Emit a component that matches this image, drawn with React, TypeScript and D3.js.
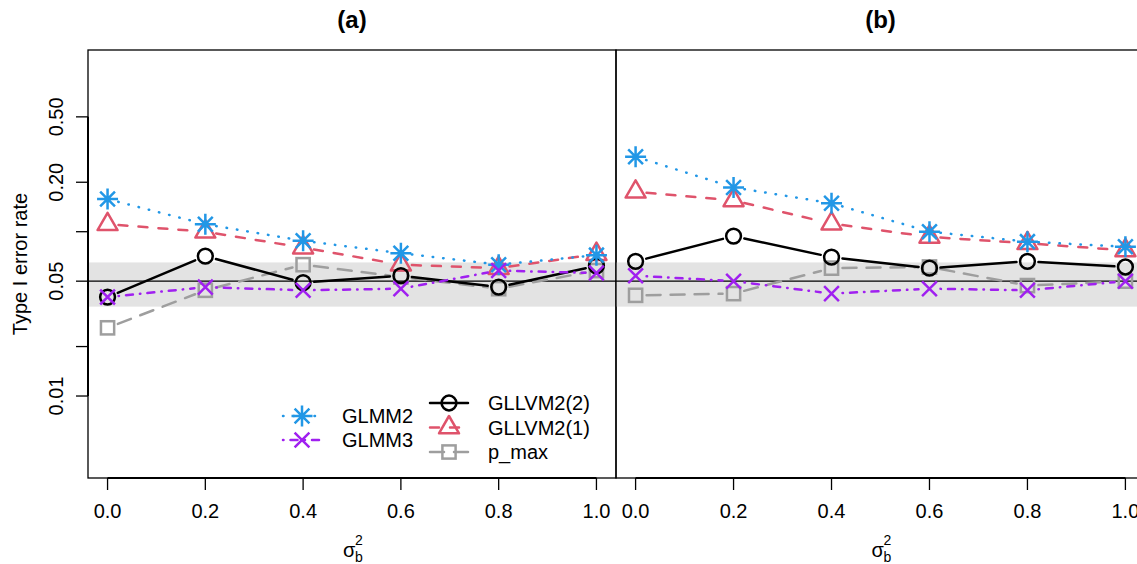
import React from 'react';
import * as d3 from 'd3';

const W = 1137;
const H = 564;

// x values (sigma_b^2) and axis labels
const sigma2 = [0, 0.2, 0.4, 0.6, 0.8, 1.0];
const xTickLabels = ['0.0', '0.2', '0.4', '0.6', '0.8', '1.0'];
const yTicks = [0.01, 0.02, 0.05, 0.1, 0.2, 0.5];
const yTickLabels = ['0.01', '', '0.05', '', '0.20', '0.50'];
const nominal = 0.05;
const bandLimits = [0.035, 0.065];

// panel (a)
const glmm2A = [0.158, 0.111, 0.088, 0.074, 0.063, 0.072];
const glmm3A = [0.04, 0.046, 0.044, 0.045, 0.058, 0.056];
const gllvm22A = [0.04, 0.071, 0.049, 0.054, 0.046, 0.062];
const gllvm21A = [0.111, 0.1, 0.08, 0.063, 0.06, 0.073];
const pmaxA = [0.026, 0.044, 0.063, 0.053, 0.045, 0.058];

// panel (b)
const glmm2B = [0.286, 0.186, 0.149, 0.1, 0.087, 0.081];
const glmm3B = [0.054, 0.05, 0.042, 0.045, 0.044, 0.05];
const gllvm22B = [0.066, 0.094, 0.07, 0.06, 0.066, 0.061];
const gllvm21B = [0.175, 0.155, 0.112, 0.093, 0.085, 0.077];
const pmaxB = [0.041, 0.042, 0.06, 0.061, 0.047, 0.05];

const styles = {
  glmm2: { name: 'GLMM2', color: '#2297E6', dash: '0.5,10', pch: 'star' },
  glmm3: { name: 'GLMM3', color: '#A020F0', dash: '0.5,7,7,7', pch: 'x' },
  gllvm22: { name: 'GLLVM2(2)', color: '#000000', dash: null, pch: 'circle' },
  gllvm21: { name: 'GLLVM2(1)', color: '#DF536B', dash: '9,11', pch: 'triangle' },
  pmax: { name: 'p_max', color: '#9E9E9E', dash: '14,10', pch: 'square' },
};
// drawing order, bottom to top
const drawOrder = ['pmax', 'gllvm21', 'gllvm22', 'glmm2', 'glmm3'];

const panels = [
  { title: '(a)', left: 88, right: 616, axisY: true, data: { glmm2: glmm2A, glmm3: glmm3A, gllvm22: gllvm22A, gllvm21: gllvm21A, pmax: pmaxA } },
  { title: '(b)', left: 616, right: 1145, axisY: false, data: { glmm2: glmm2B, glmm3: glmm3B, gllvm22: gllvm22B, gllvm21: gllvm21B, pmax: pmaxB } },
];

const top = 50;
const bottom = 478;
const font = '"Liberation Sans", Arial, Helvetica, sans-serif';
const lw = 2.5;

const y = d3.scaleLog().domain([0.00317, 1.276]).range([bottom, top]);

// type="b": line segments with a gap around each point
const gapSegments = (pts: [number, number][], g = 11) => {
  const segs: number[][] = [];
  for (let i = 0; i < pts.length - 1; i++) {
    const [x1, y1] = pts[i];
    const [x2, y2] = pts[i + 1];
    const len = Math.hypot(x2 - x1, y2 - y1);
    if (len <= 2 * g) continue;
    const ux = (x2 - x1) / len, uy = (y2 - y1) / len;
    segs.push([x1 + ux * g, y1 + uy * g, x2 - ux * g, y2 - uy * g]);
  }
  return segs;
};

const Symbol = ({ pch, x, y, color }: { pch: string; x: number; y: number; color: string }) => {
  const common = { stroke: color, strokeWidth: lw, fill: 'none' };
  if (pch === 'circle') return <circle cx={x} cy={y} r={7.4} {...common} />;
  if (pch === 'square') return <rect x={x - 6.6} y={y - 6.6} width={13.2} height={13.2} {...common} />;
  if (pch === 'triangle')
    return <path d={`M${x},${y - 11.5}L${x + 10},${y + 5.8}L${x - 10},${y + 5.8}Z`} {...common} strokeLinejoin="round" />;
  const d = 7.4;
  const xPath = `M${x - d},${y - d}L${x + d},${y + d}M${x - d},${y + d}L${x + d},${y - d}`;
  if (pch === 'x') return <path d={xPath} {...common} />;
  const a = 10.5;
  return <path d={`${xPath}M${x - a},${y}H${x + a}M${x},${y - a}V${y + a}`} {...common} />;
};

const Panel = ({ p }: { p: (typeof panels)[number] }) => {
  const x = d3.scaleLinear().domain([-0.04, 1.04]).range([p.left, p.right]);
  const cx = (p.left + p.right) / 2;
  return (
    <g>
      <rect x={p.left} y={y(bandLimits[1])} width={p.right - p.left} height={y(bandLimits[0]) - y(bandLimits[1])} fill="#E3E3E3" />
      <line x1={p.left} x2={p.right} y1={y(nominal)} y2={y(nominal)} stroke="#000" strokeWidth={1.3} />
      {drawOrder.map((k) => {
        const s = (styles as any)[k];
        const vals: number[] = (p.data as any)[k];
        const pts = vals.map((v, i) => [x(sigma2[i]), y(v)] as [number, number]);
        return (
          <g key={k}>
            {gapSegments(pts).map((sg, i) => (
              <line key={i} x1={sg[0]} y1={sg[1]} x2={sg[2]} y2={sg[3]} stroke={s.color} strokeWidth={lw}
                strokeDasharray={s.dash || undefined} strokeLinecap="round" />
            ))}
            {pts.map((pt, i) => (
              <Symbol key={i} pch={s.pch} x={pt[0]} y={pt[1]} color={s.color} />
            ))}
          </g>
        );
      })}
      <rect x={p.left} y={top} width={p.right - p.left} height={bottom - top} fill="none" stroke="#000" strokeWidth={1.3} />
      {/* x axis */}
      <line x1={x(0)} x2={x(1)} y1={bottom} y2={bottom} stroke="#000" strokeWidth={2} />
      {sigma2.map((v, i) => (
        <g key={i}>
          <line x1={x(v)} x2={x(v)} y1={bottom} y2={bottom + 12} stroke="#000" strokeWidth={1.3} />
          <text x={x(v)} y={518} textAnchor="middle" fontSize={20} fontFamily={font}>{xTickLabels[i]}</text>
        </g>
      ))}
      <text x={cx - 9} y={557} fontSize={20} fontFamily={font}>σ</text>
      <text x={cx + 3} y={545} fontSize={14} fontFamily={font}>2</text>
      <text x={cx + 3} y={562} fontSize={14} fontFamily={font}>b</text>
      <text x={cx} y={28} textAnchor="middle" fontSize={24} fontWeight="bold" fontFamily={font}>{p.title}</text>
      {p.axisY && (
        <g>
          <line x1={p.left} x2={p.left} y1={y(yTicks[0])} y2={y(yTicks[yTicks.length - 1])} stroke="#000" strokeWidth={2} />
          {yTicks.map((t, i) => (
            <g key={i}>
              <line x1={p.left - 12} x2={p.left} y1={y(t)} y2={y(t)} stroke="#000" strokeWidth={1.3} />
              {yTickLabels[i] && (
                <text transform={`translate(63,${y(t)}) rotate(-90)`} textAnchor="middle" fontSize={20} fontFamily={font}>
                  {yTickLabels[i]}
                </text>
              )}
            </g>
          ))}
          <text transform={`translate(27,${(top + bottom) / 2}) rotate(-90)`} textAnchor="middle" fontSize={20} fontFamily={font}>
            Type I error rate
          </text>
        </g>
      )}
    </g>
  );
};

const legendCols = [
  { keys: ['glmm2', 'glmm3'], x1: 283, x2: 321, sym: 302, text: 342, ys: [416, 440] },
  { keys: ['gllvm22', 'gllvm21', 'pmax'], x1: 430, x2: 468, sym: 449, text: 488, ys: [403, 427.5, 452] },
];

const Legend = () => (
  <g>
    {legendCols.map((c, ci) =>
      c.keys.map((k, i) => {
        const s = (styles as any)[k];
        const yy = c.ys[i];
        return (
          <g key={`${ci}-${k}`}>
            <line x1={c.x1} x2={c.x2} y1={yy} y2={yy} stroke={s.color} strokeWidth={lw}
              strokeDasharray={s.dash || undefined} strokeLinecap="round" />
            <Symbol pch={s.pch} x={c.sym} y={yy} color={s.color} />
            <text x={c.text} y={yy + 7} fontSize={20} fontFamily={font}>{s.name}</text>
          </g>
        );
      })
    )}
  </g>
);

const App = () => (
  <svg width={W} height={H} style={{ position: 'absolute', left: 0, top: 0, background: '#fff' }}>
    <rect width={W} height={H} fill="#fff" />
    {panels.map((p) => (
      <Panel key={p.title} p={p} />
    ))}
    <Legend />
  </svg>
);

export default App;
